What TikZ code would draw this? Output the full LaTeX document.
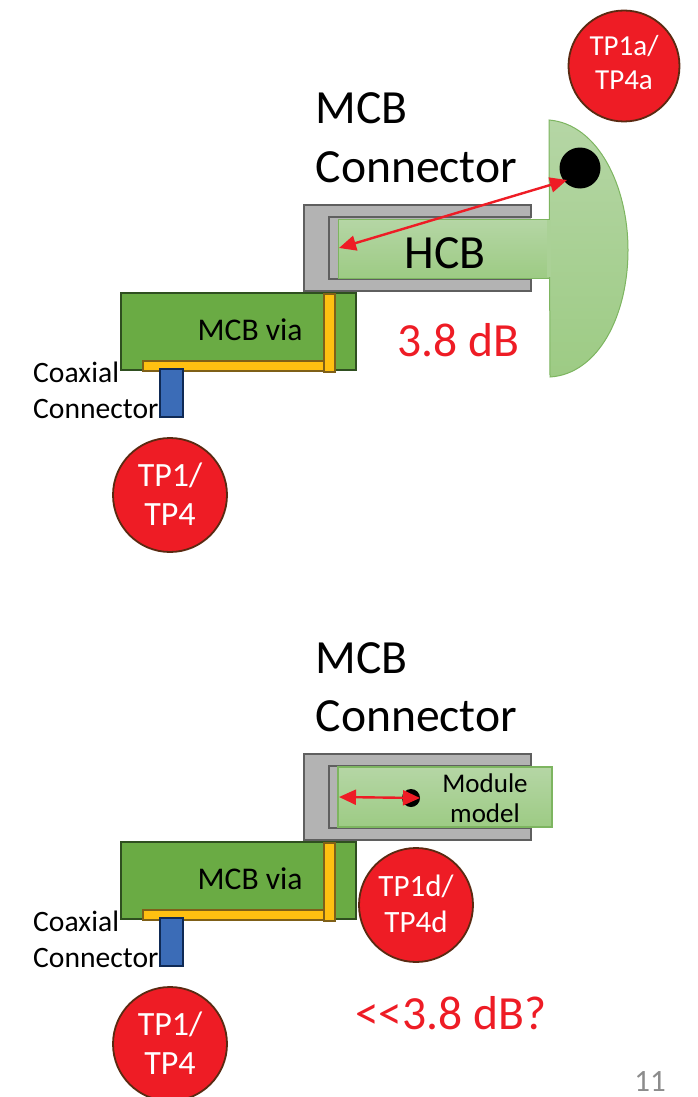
\documentclass[tikz,border=0pt]{standalone}
\usepackage{fontspec}
\setmainfont{Carlito}
\usetikzlibrary{arrows.meta}
\definecolor{tpred}{HTML}{EE1C25}
\definecolor{tpedge}{HTML}{5A2A12}
\definecolor{slotgray}{HTML}{B3B3B3}
\definecolor{slotedge}{HTML}{5F5F5F}
\definecolor{viagreen}{HTML}{6AAB44}
\definecolor{viaedge}{HTML}{2F4F20}
\definecolor{traceyellow}{HTML}{FFC011}
\definecolor{traceedge}{HTML}{7F6018}
\definecolor{coaxblue}{HTML}{3B6CB7}
\definecolor{coaxedge}{HTML}{0F2A55}
\definecolor{hcbtop}{HTML}{B5D6A5}
\definecolor{hcbbot}{HTML}{9DCB84}
\definecolor{hcbedge}{HTML}{7DB560}
\tikzset{
  x=1pt,y=-1pt,
  tpcircle/.style={circle,draw=tpedge,line width=1.8pt,fill=tpred,inner sep=0pt,minimum size=#1},
  tplabel/.style={inner sep=0pt,anchor=base,text=white},
  plate/.style={draw=viaedge,fill=viagreen,line width=2pt},
  trace/.style={draw=traceedge,fill=traceyellow,line width=1.8pt},
  coax/.style={draw=coaxedge,fill=coaxblue,line width=1.8pt},
  shell/.style={draw=slotedge,fill=slotgray,line width=2.4pt},
  module/.style={draw=hcbedge,line width=1.2pt,top color=hcbtop,bottom color=hcbbot},
  bigtext/.style={inner sep=0pt,anchor=base west,font=\fontsize{47.6}{56}\selectfont},
  redtext/.style={inner sep=0pt,anchor=base west,text=tpred,font=\fontsize{47.6}{56}\selectfont},
  midtext/.style={inner sep=0pt,anchor=base west,font=\fontsize{31.6}{38}\selectfont},
  smalltext/.style={inner sep=0pt,anchor=base west,font=\fontsize{29.6}{34}\selectfont},
  modtext/.style={inner sep=0pt,anchor=base,font=\fontsize{27}{32}\selectfont},
  span/.style={draw=tpred,line width=2.4pt,{Triangle[length=17pt,width=15pt]}-{Triangle[length=17pt,width=15pt]}},
  via assembly/.pic={
    \draw[plate] (121,293) rectangle (356,370);
    \draw[trace] (143,361) rectangle (325,371);
    \draw[trace] (324,294) rectangle (335,372);
    \draw[coax] (160,369) rectangle (183,417);
    \node[midtext] (-vl) at (197.5,340) {MCB via};
    \node[smalltext] (-ca) at (33,382) {Coaxial};
    \node[smalltext] (-cb) at (33,418) {Connector};
    \node[bigtext] (-ma) at (315.5,124) {MCB};
    \node[bigtext] (-mb) at (315.5,182) {Connector};
    \fill[slotgray] (304,205) rectangle (531,291);
    \draw[slotedge,line width=2.4pt,line join=miter] (531,217) -- (531,205) -- (304,205) -- (304,291) -- (531,291) -- (531,279) -- (329,279) -- (329,217) -- cycle;
  }
}
\newcommand{\tpfa}{\fontsize{29}{34}\selectfont}
\newcommand{\tpfb}{\fontsize{34}{38}\selectfont}
\newcommand{\tpfc}{\fontsize{31}{36}\selectfont}
\begin{document}
\begin{tikzpicture}
\useasboundingbox (0,0) rectangle (698,1097);
\clip (0,0) rectangle (698,1097);

% ---- upper panel
\pic (u) at (0,0) {via assembly};
\draw[draw=hcbedge,line width=1pt,top color=hcbtop,bottom color=hcbbot]
  (549,120) .. controls (598,124) and (628,186) .. (628,250)
  .. controls (628,316) and (598,374) .. (550,377) -- cycle;
\node[module,line width=1pt,minimum width=211pt,minimum height=59pt,inner sep=0pt,outer sep=0pt,anchor=north west] (hcb) at (338,219) {};
\fill[hcbtop!55!hcbbot] (547,220) rectangle (551,277);
\node[bigtext,anchor=base] (hcbl) at (445,268) {HCB};
\node[circle,fill=black,minimum size=41pt,inner sep=0pt] (dotu) at (580,168) {};
\coordinate (tipu) at (339,248);
\coordinate (tipv) at (567,180);
\draw[span] (tipu) -- (tipv);
\node[redtext] (dbu) at (397,356) {3.8 dB};
\node[tpcircle=111pt] (tpa) at (624,66) {};
\node[tplabel,font=\tpfa] (tpal1) at (624,56) {TP1a/};
\node[tplabel,font=\tpfa] (tpal2) at (624,90) {TP4a};
\node[tpcircle=114pt] (tpb) at (170,495) {};
\node[tplabel,font=\tpfb] (tpbl1) at (170,486) {TP1/};
\node[tplabel,font=\tpfb] (tpbl2) at (170,525) {TP4};

% ---- lower panel
\begin{scope}[yshift=-549pt]
\pic (l) at (0,0) {via assembly};
\end{scope}
\node[module,minimum width=214pt,minimum height=60pt,inner sep=0pt,outer sep=0pt,anchor=north west] (mod) at (338,767) {};
\node[modtext] (modl1) at (485,792) {Module};
\node[modtext] (modl2) at (485,822) {model};
\node[circle,fill=black,minimum size=18pt,inner sep=0pt] (dotl) at (411,798) {};
\coordinate (tipw) at (339,797);
\coordinate (tipx) at (420,798);
\draw[span] (tipw) -- (tipx);
\node[redtext] (dbl) at (355,1029) {{<}{<}3.8 dB?};
\node[tpcircle=114pt] (tpd) at (416,905) {};
\node[tplabel,font=\tpfc] (tpdl1) at (416,896) {TP1d/};
\node[tplabel,font=\tpfc] (tpdl2) at (416,932) {TP4d};
\node[tpcircle=114pt] (tpe) at (170,1044) {};
\node[tplabel,font=\tpfb] (tpel1) at (170,1035) {TP1/};
\node[tplabel,font=\tpfb] (tpel2) at (170,1074) {TP4};
\node[inner sep=0pt,anchor=base,text=black!45,font=\fontsize{31}{36}\selectfont] (pg) at (650,1091) {11};
\end{tikzpicture}
\end{document}
